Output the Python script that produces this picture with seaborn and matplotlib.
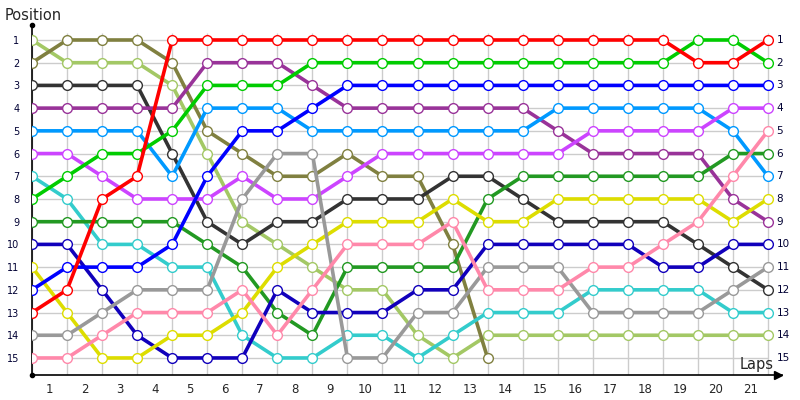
import matplotlib
matplotlib.use('Agg')
import matplotlib.pyplot as plt
import seaborn as sns
import pandas as pd

# Lap index (0 = grid position) and positions per driver
laps = list(range(22))
lap_labels = [str(i) for i in range(1, 22)]

red = [13, 12, 8, 7, 1, 1, 1, 1, 1, 1, 1, 1, 1, 1, 1, 1, 1, 1, 1, 2, 2, 1]
green = [8, 7, 6, 6, 5, 3, 3, 3, 2, 2, 2, 2, 2, 2, 2, 2, 2, 2, 2, 1, 1, 2]
blue = [12, 11, 11, 11, 10, 7, 5, 5, 4, 3, 3, 3, 3, 3, 3, 3, 3, 3, 3, 3, 3, 3]
light_blue = [5, 5, 5, 5, 7, 4, 4, 4, 5, 5, 5, 5, 5, 5, 5, 4, 4, 4, 4, 4, 5, 7]
purple = [4, 4, 4, 4, 4, 2, 2, 2, 3, 4, 4, 4, 4, 4, 4, 5, 6, 6, 6, 6, 8, 9]
violet = [6, 6, 7, 8, 8, 8, 7, 8, 8, 7, 6, 6, 6, 6, 6, 6, 5, 5, 5, 5, 4, 4]
olive = [2, 1, 1, 1, 2, 5, 6, 7, 7, 6, 7, 7, 10, 15]
light_green = [1, 2, 2, 2, 3, 6, 9, 10, 11, 12, 12, 14, 15, 14, 14, 14, 14, 14, 14, 14, 14, 14]
dark_gray = [3, 3, 3, 3, 6, 9, 10, 9, 9, 8, 8, 8, 7, 7, 8, 9, 9, 9, 9, 10, 11, 12]
teal = [7, 8, 10, 10, 11, 11, 14, 15, 15, 14, 14, 15, 14, 13, 13, 13, 12, 12, 12, 12, 13, 13]
forest = [9, 9, 9, 9, 9, 10, 11, 13, 14, 11, 11, 11, 11, 8, 7, 7, 7, 7, 7, 7, 6, 6]
navy = [10, 10, 12, 14, 15, 15, 15, 12, 13, 13, 13, 12, 12, 10, 10, 10, 10, 10, 11, 11, 10, 10]
yellow = [11, 13, 15, 15, 14, 14, 13, 11, 10, 9, 9, 9, 8, 9, 9, 8, 8, 8, 8, 8, 9, 8]
gray = [14, 14, 13, 12, 12, 12, 8, 6, 6, 15, 15, 13, 13, 11, 11, 11, 13, 13, 13, 13, 12, 11]
pink = [15, 15, 14, 13, 13, 13, 12, 14, 12, 10, 10, 10, 9, 12, 12, 12, 11, 11, 10, 9, 7, 5]

drivers = [
    (light_green, '#a3c865'), (olive, '#808040'), (dark_gray, '#333333'),
    (purple, '#993399'), (light_blue, '#0099ff'), (violet, '#cc44ff'),
    (teal, '#33cccc'), (green, '#00cc00'), (forest, '#229922'),
    (navy, '#1100bb'), (yellow, '#dddd00'), (blue, '#0000ff'),
    (gray, '#999999'), (pink, '#ff88aa'), (red, '#ff0000'),
]

sns.set_style('white')
plt.rcParams['font.family'] = ['DejaVu Sans']

fig = plt.figure(figsize=(8, 4), dpi=100)
ax = fig.add_axes([0.04, 0.0625, 0.9375, 0.875])

# grid
ax.vlines(laps, 0.7, 15.75, color='#cccccc', linewidth=1, zorder=0)
ax.hlines(range(1, 16), 0, 21, color='#cccccc', linewidth=1, zorder=0)

for pos, col in drivers:
    df = pd.DataFrame({'lap': laps[:len(pos)], 'pos': pos})
    sns.lineplot(data=df, x='lap', y='pos', color=col, linewidth=2.6,
                 marker='o', markersize=7, markerfacecolor='white',
                 markeredgecolor=col, markeredgewidth=1.0, ax=ax, zorder=3)

ax.set_xlim(0, 21.4)
ax.set_ylim(15.75, 0.34)

ax.set_xticks([i - 0.5 for i in range(1, 22)])
ax.set_xticklabels(lap_labels, fontsize=8.5)
ax.set_yticks(range(1, 16))
ax.set_yticklabels([str(i) for i in range(1, 16)], fontsize=7, color='#000033')
ax.tick_params(axis='both', length=0)
ax.tick_params(axis='y', pad=9)
ax.tick_params(axis='x', pad=6)
ax.set_xlabel('')
ax.set_ylabel('')

for i in range(1, 16):
    ax.annotate(str(i), (21, i), xytext=(6, 0), textcoords='offset points',
                va='center', ha='left', fontsize=7.5, color='#000033')

for s in ['top', 'right']:
    ax.spines[s].set_visible(False)
for s in ['left', 'bottom']:
    ax.spines[s].set_color('black')
    ax.spines[s].set_linewidth(1.2)

ax.plot(0, 1, marker='o', markersize=3, color='black', transform=ax.transAxes, clip_on=False)
ax.plot(0, 0, marker='o', markersize=3, color='black', transform=ax.transAxes, clip_on=False)
ax.plot(0.995, 0, marker='>', markersize=6, color='black', transform=ax.transAxes, clip_on=False)

fig.text(0.006, 0.962, 'Position', fontsize=10.5, va='center', ha='left')
fig.text(0.925, 0.088, 'Laps', fontsize=10.5, va='center', ha='left')

fig.savefig('out.png', dpi=100)
